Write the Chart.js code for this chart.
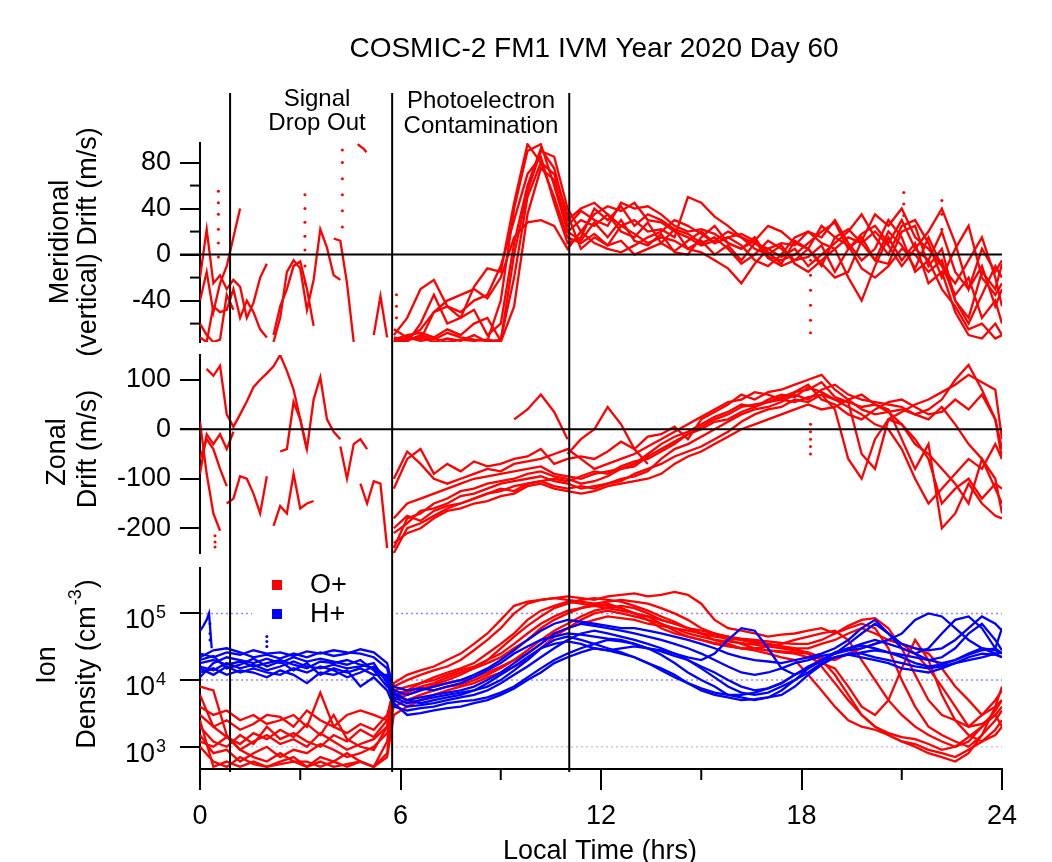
<!DOCTYPE html>
<html><head><meta charset="utf-8"><title>COSMIC-2 FM1 IVM Year 2020 Day 60</title>
<script src="https://cdn.jsdelivr.net/npm/chart.js@4.4.1/dist/chart.umd.min.js"></script>
<style>
html,body{margin:0;padding:0;background:#fff;}
#wrap{position:relative;width:1052px;height:862px;overflow:hidden;background:#fff;}
#wrap canvas{position:absolute;left:0;top:0;}
</style></head>
<body><div id="wrap">
<canvas id="cMer" width="1052" height="862"></canvas>
<canvas id="cZon" width="1052" height="862"></canvas>
<canvas id="cDen" width="1052" height="862"></canvas>
</div>
<script>
const _ = null;
// ---------- time grids (local time, hours) ----------
const hrsNight  = [0,0.2,0.4,0.6,0.8,1.0,1.2,1.4,1.6,1.8,2.0,2.2,2.4,2.6,2.8,3.0,3.2,3.4,3.6,3.8,4.0,4.2,4.4,4.6,4.8,5.0,5.2,5.4,5.6];
const hrsNightD = [0,0.4,0.8,1.2,1.6,2.0,2.4,2.8,3.2,3.6,4.0,4.4,4.8,5.2,5.6];
const hrsDay    = [5.8,6.2,6.6,7.0,7.4,7.8,8.2,8.6,9.0,9.4,9.8,10.2,10.6,11.0,11.4,11.8,12.2,12.6,13.0,13.4,13.8,14.2,14.6,15.0,15.4,15.8,16.2,16.6,17.0,17.4,17.8,18.2,18.6,19.0,19.4,19.8,20.2,20.6,21.0,21.4,21.8,22.2,22.6,23.0,23.4,23.8,24.0];
const boundaryHrs = [0.9, 5.75, 11.05];
const xTicks = [0,6,12,18,24];
const xMinorTicks = [3,9,15,21];
const merTicks = [-40,0,40,80];
const merMinorTicks = [-60,-20,20,60];
const zonTicks = [-200,-100,0,100];
const denTicks = [1e3,1e4,1e5];
const denTickExp = ['3','4','5'];
const titleText = 'COSMIC-2 FM1 IVM Year 2020 Day 60';

// ---------- Meridional (vertical) drift, m/s ----------
const merN1 = [-40,-15,-50,-25,-10,15,40];
const merN2 = [-72,-76,-45,-50,-48,-30,-55,-40,-50,-65,-72];
const merN3 = [-20,22,-25,-18,-30,-22,-28,-55,-42,-20,-8];
const merN4 = [-60,-70,-76,-74,-35,-48];
const merN5 = [_,_,_,_,_, _,_,_,_,_, _,-76,-55,-15,-5,-12,-48,-22,22,6,-18,-22];
const merN6 = [_,_,_,_,_, _,_,_,_,_, _,-70,-45,-30,-10,-6,-30,-62];
const merN7 = [_,_,_,_,_, _,_,_,_,_, _,_,_,_,_, _,_,_,_,_, 14,12,-25,-76];
const merN8 = [_,_,_,_,_, _,_,_,_,_, _,_,_,_,_, _,_,_,_,_, _,_,_,_,_, _,-70,-36,-72];
const merTopHrs = [4.72,4.8,4.9,4.98];
const merTopVals = [96,94,92,89];
const merD1 = [-72,-75,-70,-74,-68,-72,-74,-75,-40,40,90,96,60,20, 30,25,35,20,15,28,10,22,5,12, 0,8,-5,10,2,-8,12,5,-10,15, 22,10,-5,20,8,-12,15,-10,-35,-20, -55,-40,-60];
const merD2 = [-70,-55,-30,-22,-45,-50,-40,-35,-10,30,70,85,45,10, 15,40,30,42,25,35,30,22,18,10, 15,5,-8,0,12,5,-5,-2,8,-15, 5,18,25,10,30,5,-5,20,-15,-30, -10,-45,-30];
const merD3 = [-76,-74,-72,-76,-73,-75,-70,-76,-74,-20,50,80,70,35, 5,15,8,12,0,5,10,3,12,20, 10,15,8,-5,-10,0,15,20,10,5, -20,-40,-10,15,-5,10,-25,-15,-50,-70, -73,-60,-70];
const merD4 = [-75,-73,-65,-50,-40,-35,-30,-38,-20,15,28,30,25,5, 20,35,42,38,45,30,28,20,15,8, 12,20,15,10,5,-2,5,-10,0,10, 20,35,15,0,25,30,10,-20,5,25, -20,-35,-25];
const merD5 = [-65,-72,-74,-50,-45,-55,-48,-70,-60,10,60,92,75,30, 40,45,35,25,30,20,22,15,50,45, 33,25,15,5,0,8,-8,-15,-5,5, 15,10,20,8,-10,5,20,40,10,-30, 5,-15,-5];
const merD6 = [-75,-76,-60,-35,-60,-55,-28,-12,-15,45,96,80,50,15, 10,18,8,25,18,10,15,12,5,2, -5,-12,-25,-8,5,10,8,20,15,30, 10,-5,5,30,15,-15,-5,-30,-45,-65, -60,-73,-70];
const merD7 = [-74,-70,-68,-72,-65,-70,-60,-55,-75,0,55,90,85,40, 20,10,5,2,8,15,20,30,25,18, 10,15,18,12,25,20,10,5,-8,-20, -15,12,35,25,40,15,5,-10,-25,-5, 15,-20,-45];
const merD8 = [-76,-72,-75,-73,-76,-74,-75,-74,-76,-45,35,75,65,25, 38,30,25,45,40,42,35,25,20,22, 18,10,5,12,-3,-10,-5,5,25,15, 8,-12,-20,-10,5,0,-15,-5,-40,-60, -35,-10,-20];
const merD9 = [_,_,_,_,_, _,_,_,_,_, _,_,_, 20,12,28,15,30,12,8,18,2,0, 15,25,10,5,15,-2,-5,0,10,20, 28,5,15,-5,-8,20,25,-10,5,-40, -55,-15,-30,-8];
const dotMerHrs  = [0.55,0.55,0.55,0.55,0.55,0.55, 3.14,3.14,3.14,3.14,3.14,3.14,3.14, 4.26,4.26,4.26,4.26,4.26,4.26, 18.27,18.27,18.27,18.27,18.27,18.27, 21.06,21.06,21.06, 22.2,22.2,22.2, 5.88,5.88,5.88];
const dotMerVals = [55,45,35,22,10,-2, 52,40,28,16,4,-10,-25, 24,38,52,66,80,91, -5,-18,-31,-44,-57,-68, 54,44,34, 47,35,22, -35,-45,-55];

// ---------- Zonal drift, m/s ----------
const zonN1 = [15,-90,-170,-205];
const zonN2 = [_,122,108,128,30,5,30,56,85,100,113,127,150,118,80,20,-42];
const zonN3 = [-60,-20,-40,-80,-115];
const zonN4 = [-90,-10,-30,-10,-40,-5];
const zonN5 = [_,_,_,_,-150,-140,-95,-100,-130,-170,-95];
const zonN6 = [_,_,_,_,_, _,_,_,_,_, _,-195,-155,-170,-90,-160,-150,-145];
const zonN7 = [_,_,_,_,_, _,_,_,_,_, _,_,-45,-40,55,20,-40,60,105,20,-5,-20];
const zonN8 = [_,_,_,_,_, _,_,_,_,_, _,_,_,_,_, _,_,_,_,_, _,-35,-100,-30,-20,-40];
const zonN9 = [_,_,_,_,_, _,_,_,_,_, _,_,_,_,_, _,_,_,_,_, _,_,_,_,-110,-150,-105,-110,-240];
const zonD1 = [-240,-180,-170,-150,-140,-125,-120,-110,-105,-100,-90,-85,-95,-100, -110,-105,-95,-80,-70,-50,-30,-15,-5,10, 25,35,50,45,60,70,65,85,75,60, 55,45,50,35,40,30,20,45,10,-30, -60,-120,-150];
const zonD2 = [-250,-200,-190,-175,-160,-150,-140,-130,-120,-125,-110,-105,-115,-120, -115,-120,-110,-100,-95,-85,-60,-40,-30,-15, 0,15,30,40,45,55,70,60,80,90, 70,60,55,50,45,30,40,60,100,130, 80,20,-60];
const zonD3 = [-120,-60,-40,-90,-70,-85,-65,-75,-70,-60,-55,-40,-70,-60, -55,-60,-45,-25,-40,-15,-10,5,-20,20, 35,50,70,60,75,80,90,100,110,80, 60,40,30,35,10,-30,-50,-80,-110,-150, -60,-100,-170];
const zonD4 = [-210,-190,-165,-160,-150,-135,-130,-120,-110,-105,-100,-95,-105,-110, -120,-115,-110,-105,-90,-80,-70,-55,-45,-35, -20,-5,15,30,40,45,60,55,70,40, -60,-100,-20,20,10,-20,-60,-150,-120,-100, -140,-110,-120];
const zonD5 = [-180,-150,-140,-130,-120,-110,-100,-95,-90,-85,-80,-75,-90,-95, -100,-90,-85,-80,-75,-55,-40,-25,-10,5, 20,30,45,50,55,65,75,90,60,50, 30,20,40,55,60,45,30,35,60,40, 70,20,-40];
const zonD6 = [-230,-210,-200,-180,-165,-160,-150,-145,-135,-130,-115,-110,-120,-125, -130,-125,-115,-110,-105,-100,-90,-70,-55,-45, -30,-15,0,10,20,30,40,50,40,45, 60,70,50,40,-20,-80,-30,-200,-170,-110, -150,-175,-180];
const zonD7 = [-100,-45,-70,-100,-110,-100,-90,-80,-85,-70,-65,-60,-50,-40, -60,-80,-70,-60,-50,-35,-20,-5,10,25, 40,55,60,75,70,60,75,80,95,65, 55,-50,-80,20,35,50,60,75,90,110, 95,80,-20];
const zonD8 = [-200,-175,-185,-165,-155,-150,-140,-130,-125,-115,-110,-105,-100,-105, -95,-85,-90,-75,-65,-60,-45,-30,-10,0, 15,20,35,45,55,60,55,65,70,60, 45,30,10,0,-40,-100,-150,-120,-90,-60, -80,-30,-60];
const zonD9 = [_,_,_,_,_, _,_,_,_, 20,40,70,35,-20];
const zonD10 = [_,_,_,_,_, _,_,_,_,_, _,_,_, -50,-20,0,45,10,-40,-70];
const dotZonHrs  = [18.27,18.27,18.27,18.27,18.27, 0.45,0.45,0.45];
const dotZonVals = [10,-5,-20,-35,-50, -215,-228,-238];

// ---------- Ion density, cm^-3 : O+ ----------
const opN1 = [8e3,7e3,1.5e3,9e2,7e2,6e2,8e2,6e2,5e2,7e2,6e2,8e2,6e2,5e2,1.2e3];
const opN2 = [4e3,3e3,3.5e3,2.5e3,3e3,2.2e3,2.5e3,3e3,2e3,6.5e3,2e3,3e3,3.5e3,3e3,2.5e3];
const opN3 = [2e3,1.2e3,1e3,1.5e3,1.1e3,2e3,1.3e3,1.6e3,1.2e3,1e3,1.5e3,1.2e3,1.8e3,1.4e3,2.5e3];
const opN4 = [1e3,6e2,5e2,7e2,5.5e2,5e2,6e2,7e2,5e2,6e2,5e2,5.5e2,6e2,5e2,8e2];
const opN5 = [3e3,2e3,2.5e3,1.8e3,2.2e3,3e3,2.8e3,2e3,3.5e3,2.5e3,2e3,1.6e3,2.2e3,1.8e3,3e3];
const opN6 = [1.5e3,8e2,9e2,6e2,8e2,1e3,7e2,9e2,8e2,1.1e3,9e2,7e2,8e2,1e3,1.6e3];
const opN7 = [6e3,2e3,1.4e3,1.1e3,1.6e3,1.3e3,1.8e3,1.4e3,2.2e3,1.5e3,3e3,1.3e3,1e3,9e2,2e3];
const opN8 = [2.5e3,5e2,6e2,5e2,6e2,5e2,5.5e2,6e2,6e2,5e2,6e2,5e2,6e2,5e2,7e2];
const opN9 = [1.2e3,1e3,1.4e3,9e2,1.2e3,1.5e3,1.1e3,1.3e3,1e3,1.6e3,1.2e3,9e2,1.1e3,1.3e3,2e3];
const opD1 = [5e3,6e3,7e3,8.5e3,1e4,1.2e4,1.5e4,2e4,3e4,4.5e4, 6.5e4,9e4,1.2e5,1.4e5,1.6e5,1.7e5,1.6e5,1.5e5,1.3e5,1.1e5, 9e4,7.5e4,6e4,5e4,4.5e4,4.2e4,4e4,3.8e4,3.5e4,3.2e4, 3e4,2.5e4,1.6e4,9e3,5e3,3e3,2e3,1.5e3,1.2e3,1.1e3, 9e2,8e2,7e2,9e2,1.2e3,1.8e3,2.5e3];
const opD2 = [8e3,1e4,1.2e4,1.4e4,1.6e4,2e4,2.8e4,4e4,6e4,1e5, 1.4e5,1.6e5,1.7e5,1.8e5,1.7e5,1.6e5,1.8e5,1.9e5,2e5,1.8e5, 1.9e5,2.1e5,1.9e5,1.4e5,8e4,6e4,5.5e4,5e4,4.5e4,4.8e4, 5e4,5.5e4,6e4,5e4,6.5e4,8e4,8.5e4,6e4,3e4,1.2e4, 5e3,3e3,2.5e3,2e3,2.2e3,3e3,4e3];
const opD3 = [6e3,7e3,7.5e3,8e3,9e3,1e4,1.1e4,1.3e4,1.6e4,2e4, 2.8e4,4e4,5.5e4,7e4,9e4,1.1e5,1.2e5,1.3e5,1.2e5,1e5, 8e4,7e4,6e4,5.5e4,5e4,4.5e4,4e4,3.6e4,3.5e4,3.2e4, 3e4,3e4,3.5e4,4e4,5e4,6e4,5e4,4e4,3.5e4,3e4, 2.5e4,1.5e4,8e3,5e3,3e3,4e3,5e3];
const opD4 = [5e3,7e3,9e3,1.1e4,1.3e4,1.5e4,1.8e4,2.5e4,3.5e4,5e4, 8e4,1.1e5,1.3e5,1.5e5,1.4e5,1.3e5,1.4e5,1.2e5,1e5,9e4, 8e4,7e4,6e4,5e4,4e4,3.5e4,3e4,2.8e4,2.5e4,2.2e4, 2e4,1.2e4,7e3,4e3,2.5e3,2e3,1.8e3,1.5e3,1.2e3,1e3, 8e2,7e2,6e2,8e2,1.5e3,2.5e3,3.5e3];
const opD5 = [7e3,8e3,9e3,1e4,1.2e4,1.4e4,1.6e4,2e4,2.5e4,3.5e4, 5e4,7e4,9e4,1.1e5,1.2e5,1.3e5,1.2e5,1.1e5,1e5,9e4, 7e4,5.5e4,4.5e4,4e4,3.5e4,3.2e4,3e4,3e4,2.8e4,2.6e4, 2.5e4,2.2e4,1.8e4,1.5e4,8e3,4e3,3e3,5e3,1.5e4,4e4, 2e4,6e3,2.5e3,1.5e3,1.2e3,1.5e3,2e3];
const opD6 = [4e3,5e3,6e3,7e3,8e3,8.5e3,1e4,1.2e4,1.5e4,2e4, 2.5e4,3.5e4,5e4,6e4,7e4,8e4,9e4,8.5e4,8e4,7e4, 6.5e4,6e4,5.5e4,5e4,4.8e4,4.5e4,4.2e4,4e4,3.8e4,3.6e4, 3.5e4,3.5e4,4e4,5e4,6e4,7e4,6e4,3e4,1e4,4e3, 2e3,1.5e3,1.2e3,1e3,1.5e3,4e3,8e3];
const opD7 = [9e3,1.2e4,1.4e4,1.6e4,2e4,2.5e4,3.5e4,5e4,8e4,1.3e5, 1.5e5,1.6e5,1.7e5,1.6e5,1.5e5,1.4e5,1.3e5,1.2e5,1e5,8e4, 6e4,5e4,4.5e4,4e4,3.6e4,3.3e4,3e4,3e4,3.2e4,3.5e4, 4e4,4.5e4,5e4,5.5e4,4e4,2e4,1e4,5e3,3e3,2e3, 1.5e3,1.2e3,1e3,1.2e3,2e3,3e3,2e3];
const opD8 = [3e3,4e3,5e3,6e3,7e3,8e3,9e3,1.1e4,1.3e4,1.6e4, 2e4,3e4,4.5e4,6e4,8e4,1e5,1.1e5,1e5,9e4,8e4, 7e4,6e4,5e4,4.5e4,4e4,3.8e4,3.6e4,3.4e4,3.2e4,3e4, 2.8e4,2.6e4,2.2e4,2e4,2.5e4,3e4,3.5e4,4e4,3.5e4,2.5e4, 1.5e4,8e3,4e3,2e3,3e3,5e3,7e3];
const opD9 = [6e3,6.5e3,8e3,9e3,1.1e4,1.3e4,1.5e4,1.8e4,2.2e4,3e4, 4e4,6e4,8e4,1e5,1.2e5,1.4e5,1.5e5,1.6e5,1.5e5,1.4e5, 1.2e5,1e5,8e4,6e4,5e4,4e4,3.5e4,3e4,2.8e4,2.7e4, 2.6e4,2.5e4,2e4,1.2e4,6e3,3e3,2e3,1.6e3,1.4e3,1.3e3, 1.1e3,9e2,1e3,1.4e3,2e3,3.5e3,5e3];

// ---------- Ion density, cm^-3 : H+ ----------
const hpN1 = [2.5e4,2.2e4,2.6e4,2.4e4,2.8e4,2.5e4,2.6e4,2.3e4,2.7e4,2.5e4,2.8e4,2.6e4,2.5e4,2.2e4,1.5e4];
const hpN2 = [1.8e4,2e4,1.7e4,1.9e4,1.6e4,1.8e4,2e4,1.7e4,1.5e4,1.9e4,1.8e4,2e4,1.7e4,1.5e4,1e4];
const hpN3 = [1.3e4,1.5e4,1.2e4,1.4e4,1.3e4,1.1e4,1.4e4,1.2e4,9e3,1.3e4,1.2e4,1.4e4,8e3,1.1e4,7e3];
const hpN4 = [2.2e4,2.8e4,3e4,2.6e4,2.2e4,2.4e4,2.1e4,2.5e4,2.2e4,2.6e4,2.3e4,2.5e4,2.9e4,2.6e4,1.8e4];
const hpN5 = [1.6e4,1.4e4,1.8e4,1.5e4,1.7e4,1.4e4,1.6e4,1.9e4,1.6e4,1.5e4,1.7e4,1.5e4,1.6e4,1.8e4,9e3];
const hpN6 = [1.1e4,1.8e4,2.2e4,2e4,1.8e4,2.1e4,1.8e4,2.2e4,1.9e4,2.1e4,1.9e4,1.7e4,2e4,1.4e4,8e3];
const hpN7 = [2e4,2.3e4,1.5e4,1.7e4,2.1e4,1.6e4,1.9e4,1.4e4,1.8e4,1.2e4,1.5e4,1.3e4,1.5e4,1.2e4,1.2e4];
const hpN8 = [1.5e4,1.2e4,1.6e4,1.3e4,1.5e4,1.3e4,1.2e4,1.5e4,1.3e4,1.6e4,1.4e4,1.1e4,1.3e4,1.6e4,1.1e4];
const hpD1 = [6e3,5e3,5.5e3,6e3,6.5e3,7e3,8e3,1e4,1.3e4,1.8e4, 2.5e4,3.5e4,5e4,6e4,7e4,6.5e4,6e4,5.5e4,5e4,4.5e4, 4e4,3.5e4,3e4,2.5e4,2e4,1.6e4,1.3e4,1.2e4,1.3e4,1.5e4, 1.8e4,2e4,2.3e4,2.5e4,2.8e4,3e4,3.5e4,4e4,5e4,8e4, 1e5,9e4,6e4,4e4,3e4,2.5e4,2.2e4];
const hpD2 = [5e3,4e3,4.2e3,4.5e3,5e3,5.5e3,6e3,7e3,9e3,1.2e4, 1.6e4,2.2e4,3e4,4e4,5e4,5.5e4,5e4,4.5e4,4e4,3.5e4, 3e4,2.5e4,2e4,1.5e4,1.1e4,8e3,6.5e3,6e3,6.5e3,8e3, 1e4,1.3e4,1.8e4,2.2e4,2.5e4,2.5e4,2.2e4,2e4,1.8e4,1.6e4, 1.5e4,1.6e4,1.8e4,2e4,2.2e4,2.5e4,2.6e4];
const hpD3 = [4e3,3.5e3,3.8e3,4e3,4.5e3,4.8e3,5e3,5.5e3,6.5e3,8e3, 1.1e4,1.5e4,2e4,2.5e4,3e4,3.5e4,4e4,3.8e4,3.5e4,3e4, 2.4e4,1.8e4,1.3e4,1e4,8e3,6e3,5.5e3,5e3,5.5e3,7e3, 1e4,1.5e4,2e4,2.5e4,3e4,3.5e4,4e4,3.5e4,3e4,2.5e4, 2e4,1.8e4,2e4,2.5e4,3e4,2.8e4,2.5e4];
const hpD4 = [7e3,6e3,7e3,8e3,9e3,1e4,1.2e4,1.5e4,2e4,2.8e4, 4e4,5.5e4,7e4,8e4,7.5e4,7e4,6.5e4,6e4,6e4,5.5e4, 5e4,4.5e4,4e4,3.5e4,3e4,2.5e4,2.2e4,2e4,1.9e4,1.8e4, 2e4,2.2e4,2.5e4,3e4,4e4,6e4,8e4,5e4,3e4,2.5e4, 3e4,5e4,8e4,9e4,6e4,3e4,2.5e4];
const hpD5 = [4.5e3,3e3,3.2e3,3.5e3,3.8e3,4e3,4.5e3,5e3,6e3,7.5e3, 1e4,1.3e4,1.8e4,2.2e4,2.6e4,3e4,2.8e4,2.5e4,2.2e4,1.8e4, 1.5e4,1.2e4,9e3,7e3,6e3,5.5e3,5e3,5.2e3,5.5e3,6e3, 8e3,1.2e4,1.7e4,2.2e4,2.4e4,2.2e4,2e4,1.8e4,1.5e4,1.4e4, 1.3e4,1.5e4,1.8e4,2.2e4,2.5e4,2.4e4,2.2e4];
const hpD6 = [8e3,7e3,7.5e3,7e3,8e3,9e3,1.1e4,1.4e4,1.8e4,2.5e4, 3.2e4,4e4,4.5e4,5e4,4.8e4,4.5e4,4.2e4,4e4,3.5e4,3e4, 2.8e4,2.5e4,2.2e4,2e4,2.5e4,4e4,6e4,5.5e4,3e4,1.5e4, 1.2e4,1.5e4,2e4,2.5e4,3.5e4,5e4,7e4,5e4,3.5e4,3e4, 2.8e4,3e4,4e4,6e4,9e4,7e4,5.5e4];
const hpD7 = [5.5e3,4.5e3,5e3,5.5e3,6e3,6.5e3,7e3,8e3,1e4,1.4e4, 2e4,3e4,4e4,4.5e4,4e4,3.5e4,3e4,2.6e4,2.2e4,1.8e4, 1.4e4,1.1e4,9e3,7.5e3,6.5e3,6e3,6e3,6.5e3,7.5e3,9e3, 1.2e4,1.6e4,2e4,2.2e4,2.4e4,2.6e4,2.8e4,2.6e4,2.4e4,2.2e4, 2e4,2.2e4,3e4,5e4,7e4,4e4,2.8e4];
const hpD8 = [6.5e3,5e3,4.5e3,5e3,5.5e3,6e3,7e3,9e3,1.2e4,1.6e4, 2.2e4,3e4,3.5e4,3.8e4,3.5e4,3e4,2.8e4,3e4,3.2e4,3e4, 2.7e4,2.3e4,2e4,1.6e4,1.3e4,1e4,8e3,7e3,7.5e3,9e3, 1.2e4,1.5e4,2e4,2.6e4,3e4,3.3e4,3e4,2.6e4,2.2e4,1.8e4, 1.6e4,1.7e4,2e4,2.4e4,2.8e4,3e4,6e4];
const hpSpikeHrs = [0,0.1,0.2,0.27,0.35];
const hpSpikeVals = [5.5e4,6.5e4,8e4,1e5,3e4];
const dotHpHrs  = [2.0,2.0,2.0, 0.3,0.3,0.3];
const dotHpVals = [3.2e4,3.8e4,4.5e4, 7e4,5e4,4e4];

// ---------- helpers ----------
const FONT = "'Liberation Sans', Arial, Helvetica, sans-serif";
const RED = 'rgb(255,0,0)', BLUE = 'rgb(0,0,255)';
const LW = 2.3;
Chart.defaults.font.family = FONT;
Chart.defaults.color = '#000';

function pts(xs, ys) {
  const out = [];
  for (let i = 0; i < xs.length; i++) {
    const v = ys[i];
    out.push({x: xs[i], y: (v === undefined || v === null) ? null : v});
  }
  return out;
}
function lineDs(data, color, order) {
  return {data, borderColor: color, backgroundColor: color, borderWidth: LW, pointRadius: 0,
          pointHoverRadius: 0, fill: false, tension: 0, spanGaps: false, order};
}
function dotDs(data, color) {
  return {data, showLine: false, borderColor: color, backgroundColor: color, pointBackgroundColor: color,
          pointBorderWidth: 0, pointRadius: 1.5, order: 0};
}
function seg(ctx, x1, y1, x2, y2, color, w, dash) {
  ctx.save(); ctx.beginPath(); ctx.strokeStyle = color; ctx.lineWidth = w;
  ctx.setLineDash(dash || []); ctx.moveTo(x1, y1); ctx.lineTo(x2, y2); ctx.stroke(); ctx.restore();
}
function text(ctx, s, x, y, size, align) {
  ctx.save(); ctx.font = size + 'px ' + FONT; ctx.fillStyle = '#000';
  ctx.textAlign = align || 'center'; ctx.textBaseline = 'alphabetic'; ctx.fillText(s, x, y); ctx.restore();
}
function vtext(ctx, s, cx, cy, size) {
  ctx.save(); ctx.translate(cx, cy); ctx.rotate(-Math.PI / 2);
  ctx.font = size + 'px ' + FONT; ctx.fillStyle = '#000'; ctx.textAlign = 'center'; ctx.textBaseline = 'middle';
  ctx.fillText(s, 0, 0); ctx.restore();
}
function xAxis(show) {
  return {type: 'linear', min: 0, max: 24, display: show,
    afterBuildTicks: s => { s.ticks = xTicks.map(v => ({value: v})); },
    afterFit: s => { s.height = show ? 93 : 0; },
    grid: {display: show, drawOnChartArea: false, drawTicks: show, tickLength: 21, color: '#000', lineWidth: 2},
    border: {display: show, color: '#000', width: 2},
    ticks: {display: show, font: {size: 27, family: FONT}, color: '#000', padding: 10, autoSkip: false, maxRotation: 0,
            callback: v => String(v)}};
}
function yAxis(type, min, max, ticks, showLabels) {
  return {type, min, max, position: 'left',
    afterBuildTicks: s => { s.ticks = ticks.map(v => ({value: v})); },
    afterFit: s => { s.width = 200; },
    grid: {display: true, drawOnChartArea: false, drawTicks: true, tickLength: 20, color: '#000', lineWidth: 2},
    border: {display: true, color: '#000', width: 2},
    ticks: {font: {size: 27, family: FONT}, color: '#000', padding: 9, autoSkip: false,
            callback: v => showLabels ? String(v) : ''}};
}
function makeChart(id, datasets, yCfg, showX, pad, plugin) {
  return new Chart(document.getElementById(id), {
    type: 'line',
    data: {datasets},
    options: {responsive: false, animation: false, devicePixelRatio: 1, events: [],
      layout: {padding: pad},
      plugins: {legend: {display: false}, tooltip: {enabled: false}, title: {display: false}},
      scales: {x: xAxis(showX), y: yCfg}},
    plugins: [plugin]});
}

// ---------- Meridional panel ----------
const merSets = [];
[merN1, merN2, merN3, merN4, merN5, merN6, merN7, merN8].forEach(a => merSets.push(lineDs(pts(hrsNight, a), RED, 2)));
merSets.push(lineDs(pts(merTopHrs, merTopVals), RED, 2));
[merD1, merD2, merD3, merD4, merD5, merD6, merD7, merD8, merD9].forEach(a => merSets.push(lineDs(pts(hrsDay, a), RED, 2)));
merSets.push(dotDs(pts(dotMerHrs, dotMerVals), RED));

makeChart('cMer', merSets, yAxis('linear', -76, 97, merTicks, true), false,
  {top: 143, bottom: 520, left: 0, right: 50},
  {id: 'merDecor',
   afterDatasetsDraw(chart) {
     const ctx = chart.ctx, y = chart.scales.y, a = chart.chartArea;
     const y0 = y.getPixelForValue(0);
     seg(ctx, a.left - 20, y0, a.right, y0, '#000', 2);
   },
   afterDraw(chart) {
     const ctx = chart.ctx, y = chart.scales.y, a = chart.chartArea;
     merMinorTicks.forEach(v => { const py = y.getPixelForValue(v); seg(ctx, a.left - 10, py, a.left, py, '#000', 2); });
     text(ctx, titleText, 594, 57, 28);
     text(ctx, 'Signal', 317, 106, 24);
     text(ctx, 'Drop Out', 317, 130, 24);
     text(ctx, 'Photoelectron', 481, 108, 24);
     text(ctx, 'Contamination', 481, 133, 24);
     vtext(ctx, 'Meridional', 61, 242, 27);
     vtext(ctx, '(vertical) Drift (m/s)', 89, 242, 27);
   }});

// ---------- Zonal panel ----------
const zonSets = [];
[zonN1, zonN2, zonN3, zonN4, zonN5, zonN6, zonN7, zonN8, zonN9].forEach(a => zonSets.push(lineDs(pts(hrsNight, a), RED, 2)));
[zonD1, zonD2, zonD3, zonD4, zonD5, zonD6, zonD7, zonD8, zonD9, zonD10].forEach(a => zonSets.push(lineDs(pts(hrsDay, a), RED, 2)));
zonSets.push(dotDs(pts(dotZonHrs, dotZonVals), RED));

makeChart('cZon', zonSets, yAxis('linear', -250, 150, zonTicks, true), false,
  {top: 355, bottom: 309, left: 0, right: 50},
  {id: 'zonDecor',
   afterDatasetsDraw(chart) {
     const ctx = chart.ctx, y = chart.scales.y, a = chart.chartArea;
     const y0 = y.getPixelForValue(0);
     seg(ctx, a.left - 20, y0, a.right, y0, '#000', 2);
   },
   afterDraw(chart) {
     const ctx = chart.ctx;
     vtext(ctx, 'Zonal', 58, 452, 27);
     vtext(ctx, 'Drift (m/s)', 89, 449, 27);
   }});

// ---------- Density panel ----------
const denSets = [];
[[opN1, opD1], [opN2, opD2], [opN3, opD3], [opN4, opD4], [opN5, opD5], [opN6, opD6], [opN7, opD7], [opN8, opD8], [opN9, opD9]]
  .forEach(p => denSets.push(lineDs(pts(hrsNightD, p[0]).concat(pts(hrsDay, p[1])), RED, 3)));
[[hpN1, hpD1], [hpN2, hpD2], [hpN3, hpD3], [hpN4, hpD4], [hpN5, hpD5], [hpN6, hpD6], [hpN7, hpD7], [hpN8, hpD8]]
  .forEach(p => denSets.push(lineDs(pts(hrsNightD, p[0]).concat(pts(hrsDay, p[1])), BLUE, 1)));
denSets.push(lineDs(pts(hpSpikeHrs, hpSpikeVals), BLUE, 1));
denSets.push(dotDs(pts(dotHpHrs, dotHpVals), BLUE));

makeChart('cDen', denSets, yAxis('logarithmic', 464, 4.8e5, denTicks, false), true,
  {top: 568, bottom: 0, left: 0, right: 50},
  {id: 'denDecor',
   beforeDatasetsDraw(chart) {
     const ctx = chart.ctx, y = chart.scales.y, a = chart.chartArea;
     const cols = ['#c8c8f2', '#8a8aff', '#8a8aff'];
     denTicks.forEach((v, i) => { const py = y.getPixelForValue(v); seg(ctx, a.left + 1, py, a.right, py, cols[i], 1.5, [2, 3]); });
     // legend
     ctx.save(); ctx.fillStyle = '#fff'; ctx.fillRect(252, 571, 138, 60); ctx.restore();
     ctx.save(); ctx.fillStyle = RED; ctx.fillRect(272, 580, 10, 10); ctx.fillStyle = BLUE; ctx.fillRect(272, 609, 10, 10); ctx.restore();
     text(ctx, 'O+', 310, 593, 27, 'left');
     text(ctx, 'H+', 310, 622, 27, 'left');
   },
   afterDraw(chart) {
     const ctx = chart.ctx, y = chart.scales.y, x = chart.scales.x, a = chart.chartArea;
     denTicks.forEach((v, i) => {
       const py = y.getPixelForValue(v);
       text(ctx, '10', 155, py + 15, 27, 'right');
       text(ctx, denTickExp[i], 156, py + 5, 18, 'left');
     });
     vtext(ctx, 'Ion', 48, 665, 27);
     ctx.save(); ctx.translate(88, 664); ctx.rotate(-Math.PI / 2); ctx.fillStyle = '#000';
     ctx.textBaseline = 'middle'; ctx.textAlign = 'left';
     ctx.font = '27px ' + FONT; const sA = 'Density (cm', sC = ')';
     const wA = ctx.measureText(sA).width, wC = ctx.measureText(sC).width;
     ctx.font = '18px ' + FONT; const sB = '-3'; const wB = ctx.measureText(sB).width;
     const x0 = -(wA + wB + wC + 2) / 2;
     ctx.font = '27px ' + FONT; ctx.fillText(sA, x0, 0);
     ctx.font = '18px ' + FONT; ctx.fillText(sB, x0 + wA + 1, -12);
     ctx.font = '27px ' + FONT; ctx.fillText(sC, x0 + wA + wB + 2, 0);
     ctx.restore();
     xMinorTicks.forEach(h => { const px = x.getPixelForValue(h); seg(ctx, px, a.bottom, px, a.bottom + 11, '#000', 2); });
     text(ctx, 'Local Time (hrs)', 600, 859, 27);
     boundaryHrs.forEach(h => { const px = x.getPixelForValue(h); seg(ctx, px, 93, px, 772, '#000', 2); });
   }});
</script>
</body></html>
